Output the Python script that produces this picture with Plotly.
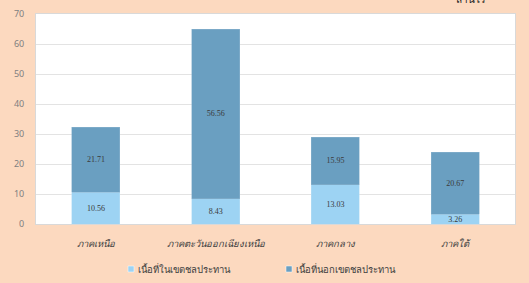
import plotly.graph_objects as go

categories = ["ภาคเหนือ", "ภาคตะวันออกเฉียงเหนือ", "ภาคกลาง", "ภาคใต้"]
irrigated = [10.56, 8.43, 13.03, 3.26]
non_irrigated = [21.71, 56.56, 15.95, 20.67]
series_names = ["เนื้อที่ในเขตชลประทาน", "เนื้อที่นอกเขตชลประทาน"]
unit_label = "ล้านไร่"
y_ticks = [0, 10, 20, 30, 40, 50, 60, 70]

BG = "#FCD9BF"
LIGHT = "#9DD3F3"
DARK = "#6A9FC1"
COLORS = [LIGHT, DARK]

W, H = 529, 283
L, R, T, B = 36, 14, 14, 59
PW, PH = W - L - R, H - T - B


def px_x(p):
    return (p - L) / PW


def px_y(p):
    return (H - B - p) / PH


fig = go.Figure()
for vals, name, col, edge in [(irrigated, series_names[0], LIGHT, "#B9E0F5"),
                              (non_irrigated, series_names[1], DARK, "#8DB6D0")]:
    fig.add_trace(go.Bar(
        x=categories, y=vals, name=name,
        marker=dict(color=col, line=dict(color=edge, width=0.5)),
        text=[f"{v:.2f}" for v in vals], textposition="inside",
        insidetextanchor="middle",
        textfont=dict(family="Liberation Serif", size=8, color="#3A3A3A"),
        width=0.4, showlegend=False,
    ))

# custom legend (small squares close to text)
shapes = []
annotations = []
legend_pos = [128, 286]
for i, name in enumerate(series_names):
    x0 = legend_pos[i]
    shapes.append(dict(type="rect", xref="paper", yref="paper",
                       x0=px_x(x0), x1=px_x(x0 + 6), y0=px_y(272), y1=px_y(266),
                       fillcolor=COLORS[i], line=dict(color="#FFFFFF", width=0.5)))
    annotations.append(dict(text=name, xref="paper", yref="paper",
                            x=px_x(x0 + 8), y=px_y(269), xanchor="left", yanchor="middle",
                            showarrow=False, font=dict(size=9.5, color="#404040")))

annotations.append(dict(
    text=unit_label, xref="paper", yref="paper", x=px_x(471), y=1,
    xanchor="center", yanchor="bottom", yshift=6, showarrow=False,
    font=dict(size=10, color="#222222"),
))

fig.update_layout(
    barmode="stack",
    width=W, height=H,
    margin=dict(l=L, r=R, t=T, b=B),
    paper_bgcolor=BG,
    plot_bgcolor="white",
    font=dict(family="Noto Sans, DejaVu Sans, sans-serif", size=8, color="#595959"),
    uniformtext=dict(minsize=7, mode="show"),
    showlegend=False,
    xaxis=dict(
        automargin=False,
        showline=True, linecolor="#D9D9D9", mirror=True,
        tickfont=dict(size=9.5, color="#404040", style="italic"),
        ticks="outside", ticklen=11, tickcolor="rgba(0,0,0,0)", showgrid=False,
    ),
    yaxis=dict(
        automargin=False,
        range=[0, 70], tickvals=y_ticks, showgrid=True, gridcolor="#E3E3E3",
        showline=True, linecolor="#D9D9D9", mirror=True, zeroline=False,
        tickfont=dict(size=9, color="#7F7F7F"),
        ticks="outside", ticklen=9, tickcolor="rgba(0,0,0,0)",
    ),
    shapes=shapes,
    annotations=annotations,
)

fig.write_html("out.html", config={"displayModeBar": False},
               post_script="document.body.style.margin='0';document.body.style.overflow='hidden';")
